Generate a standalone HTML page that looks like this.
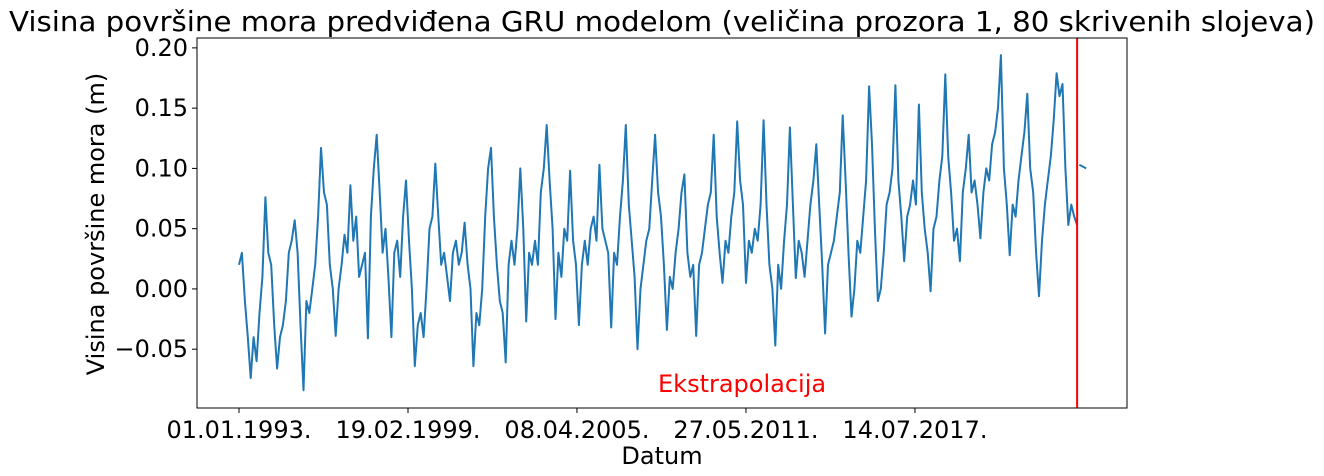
<!DOCTYPE html>
<html><head><meta charset="utf-8"><style>
body{margin:0;background:#fff;}
svg{display:block;font-family:"DejaVu Sans","Liberation Sans",sans-serif;}
</style></head><body>
<svg id="chart" width="1324" height="476" viewBox="0 0 1324 476">
<text x="662" y="31" font-size="28" text-anchor="middle" textLength="1306" lengthAdjust="spacingAndGlyphs">Visina površine mora predviđena GRU modelom (veličina prozora 1, 80 skrivenih slojeva)</text>
<g id="plot"></g>
<text transform="translate(104,224) rotate(-90)" font-size="24" text-anchor="middle">Visina površine mora (m)</text>
<text x="662" y="464" font-size="24" text-anchor="middle">Datum</text>
</svg>
<script>
const startYear = 1993.0;
const endYear = 2023.42;
const values = [0.02,0.03,-0.01,-0.04,-0.074,-0.04,-0.06,-0.02,0.01,0.076,0.03,0.02,-0.03,-0.066,-0.04,-0.03,-0.01,0.03,0.04,0.057,0.03,-0.03,-0.084,-0.01,-0.02,0.0,0.02,0.06,0.117,0.08,0.07,0.02,0.0,-0.039,0.0,0.02,0.045,0.03,0.086,0.04,0.06,0.01,0.02,0.03,-0.041,0.06,0.1,0.128,0.08,0.03,0.05,0.01,-0.04,0.03,0.04,0.01,0.06,0.09,0.04,0.0,-0.064,-0.03,-0.02,-0.04,0.0,0.05,0.06,0.104,0.06,0.02,0.03,0.01,-0.01,0.03,0.04,0.02,0.03,0.055,0.02,0.0,-0.064,-0.02,-0.03,0.0,0.06,0.1,0.117,0.06,0.02,-0.01,-0.02,-0.061,0.02,0.04,0.02,0.05,0.1,0.05,-0.027,0.03,0.02,0.04,0.02,0.08,0.1,0.136,0.09,0.05,-0.025,0.03,0.01,0.05,0.04,0.098,0.04,0.02,-0.03,0.02,0.04,0.02,0.05,0.06,0.04,0.103,0.05,0.04,0.03,-0.032,0.03,0.02,0.06,0.09,0.136,0.07,0.04,0.01,-0.05,0.0,0.02,0.04,0.05,0.09,0.128,0.08,0.06,0.02,-0.034,0.01,0.0,0.03,0.05,0.08,0.095,0.03,0.01,0.02,-0.039,0.02,0.03,0.05,0.07,0.08,0.128,0.06,0.03,0.005,0.04,0.03,0.06,0.08,0.139,0.09,0.07,0.005,0.04,0.03,0.05,0.04,0.07,0.14,0.07,0.02,0.0,-0.047,0.02,0.0,0.04,0.07,0.134,0.07,0.009,0.04,0.03,0.01,0.04,0.07,0.09,0.12,0.07,0.02,-0.037,0.02,0.03,0.04,0.06,0.08,0.144,0.09,0.03,-0.023,0.0,0.04,0.03,0.06,0.09,0.168,0.12,0.05,-0.01,0.0,0.03,0.07,0.08,0.1,0.169,0.09,0.06,0.023,0.06,0.07,0.09,0.07,0.153,0.08,0.05,0.03,-0.002,0.05,0.06,0.09,0.11,0.178,0.11,0.08,0.04,0.05,0.023,0.08,0.1,0.128,0.08,0.09,0.07,0.042,0.08,0.1,0.09,0.12,0.13,0.15,0.194,0.1,0.07,0.028,0.07,0.06,0.09,0.11,0.13,0.162,0.1,0.08,0.03,-0.006,0.04,0.07,0.09,0.11,0.14,0.179,0.16,0.17,0.1,0.053,0.07,0.06,0.053];
const extrapYears = [2023.5, 2023.75];
const extrapValues = [0.103, 0.100];
const yTicks = [-0.05, 0.00, 0.05, 0.10, 0.15, 0.20];
const yTickLabels = ["\u22120.05","0.00","0.05","0.10","0.15","0.20"];
const xTicks = [1993.0, 1999.134, 2005.266, 2011.4, 2017.534];
const xTickLabels = ["01.01.1993.","19.02.1999.","08.04.2005.","27.05.2011.","14.07.2017."];
const cutoffYear = 2023.42;

const L=197,R=1127,T=38,B=408;
const xMin=1991.476,xMax=2025.23,yMin=-0.0988,yMax=0.2082;
const sx=t=>L+(t-xMin)/(xMax-xMin)*(R-L);
const sy=v=>B-(v-yMin)/(yMax-yMin)*(B-T);
const NS="http://www.w3.org/2000/svg";
const g=document.getElementById('plot');
function mk(tag,attrs){const e=document.createElementNS(NS,tag);for(const k in attrs)e.setAttribute(k,attrs[k]);g.appendChild(e);return e;}

const step=(endYear-startYear)/(values.length-1);
let d='';
values.forEach((v,i)=>{d+=(i?'L':'M')+sx(startYear+i*step).toFixed(1)+','+sy(v).toFixed(1);});
const line=mk('path',{d:d,fill:'none',stroke:'#1f77b4','stroke-width':2,'stroke-linejoin':'round'});



let d2='';
extrapYears.forEach((t,i)=>{d2+=(i?'L':'M')+sx(t).toFixed(1)+','+sy(extrapValues[i]).toFixed(1);});
const ex=mk('path',{d:d2,fill:'none',stroke:'#1f77b4','stroke-width':2});



const cut=mk('line',{x1:sx(cutoffYear),x2:sx(cutoffYear),y1:T,y2:B,stroke:'red','stroke-width':2});



const lbl=mk('text',{x:658,y:392,'font-size':24,fill:'red'});
lbl.textContent='Ekstrapolacija';



const frame=mk('rect',{x:L,y:T,width:R-L,height:B-T,fill:'none',stroke:'#000','stroke-width':1});



yTicks.forEach((v,i)=>{
  const y=sy(v);
  const tk=mk('line',{x1:L-5,x2:L,y1:y,y2:y,stroke:'#000','stroke-width':1});
  
  
  const tx=mk('text',{x:L-9,y:y+8,'font-size':24,'text-anchor':'end'});
  tx.textContent=yTickLabels[i];
  
  
});
xTicks.forEach((t,i)=>{
  const x=sx(t);
  const tk=mk('line',{x1:x,x2:x,y1:B,y2:B+5,stroke:'#000','stroke-width':1});
  
  
  const tx=mk('text',{x:x,y:B+30,'font-size':24,'text-anchor':'middle'});
  tx.textContent=xTickLabels[i];
  
  
});
</script>
</body></html>
